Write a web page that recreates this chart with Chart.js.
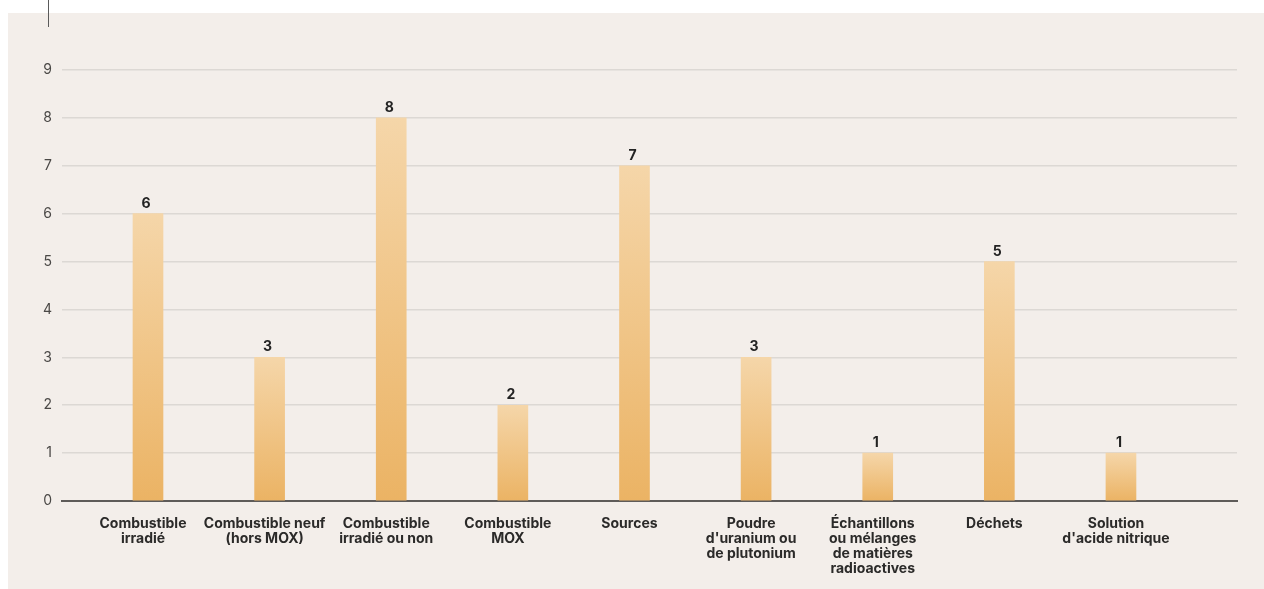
<!DOCTYPE html>
<html lang="fr">
<head>
<meta charset="utf-8">
<title>Colis par type de contenu</title>
<script src="https://cdn.jsdelivr.net/npm/chart.js@4.4.1/dist/chart.umd.min.js"></script>
<style>
    html, body { margin: 0; padding: 0; background: #ffffff; }
    body { width: 1264px; height: 589px; position: relative; overflow: hidden; font-family: Inter, "Noto Sans", sans-serif; }
    #filet { position: absolute; left: 48px; top: 0; width: 1px; height: 27px; background: #5a5a5a; z-index: 2; }
    #panneau { position: absolute; left: 8px; top: 13px; width: 1256px; height: 576px; background: #f3eeea; z-index: 1; }
    #graphique { display: block; }
</style>
</head>
<body>
<div id="filet"></div>
<div id="panneau"><canvas id="graphique" width="1256" height="576"></canvas></div>
<script>
// Catégories de contenu (une ligne par élément du tableau)
const categories = [
    ['Combustible', 'irradié'],
    ['Combustible neuf', '(hors MOX)'],
    ['Combustible', 'irradié ou non'],
    ['Combustible', 'MOX'],
    ['Sources'],
    ['Poudre', "d'uranium ou", 'de plutonium'],
    ['Échantillons', 'ou mélanges', 'de matières', 'radioactives'],
    ['Déchets'],
    ['Solution', "d'acide nitrique"]
];
const valeurs = [6, 3, 8, 2, 7, 3, 1, 5, 1];
const graduations = [0, 1, 2, 3, 4, 5, 6, 7, 8, 9];

// Dégradé vertical propre à chaque barre : clair en haut, plus soutenu en bas
function degradeBarre(context) {
    const chart = context.chart;
    const area = chart.chartArea;
    if (!area || !context.parsed) return '#efc484';
    const y = chart.scales.y;
    const haut = y.getPixelForValue(context.parsed.y);
    const bas = y.getPixelForValue(0);
    const g = chart.ctx.createLinearGradient(0, haut, 0, bas);
    g.addColorStop(0, '#f5d6a9');
    g.addColorStop(1, '#ebb364');
    return g;
}

// Valeur écrite au-dessus de chaque barre
const etiquettesValeurs = {
    id: 'etiquettesValeurs',
    afterDatasetsDraw(chart) {
        const ctx = chart.ctx;
        const meta = chart.getDatasetMeta(0);
        ctx.save();
        ctx.font = 'bold 14px Inter, "Noto Sans", sans-serif';
        ctx.fillStyle = '#232323';
        ctx.textAlign = 'center';
        ctx.textBaseline = 'alphabetic';
        meta.data.forEach((barre, i) => {
            ctx.fillText(String(valeurs[i]), barre.x - 2, barre.y - 6);
        });
        ctx.restore();
    }
};

const ctx = document.getElementById('graphique').getContext('2d');
const graphique = new Chart(ctx, {
    type: 'bar',
    data: {
        datasets: [{
            data: valeurs.map((v, i) => ({ x: i, y: v })),
            backgroundColor: degradeBarre,
            borderWidth: 0,
            barThickness: 30
        }]
    },
    options: {
        responsive: false,
        animation: false,
        layout: { padding: { top: 57, right: 27, left: 0, bottom: 0 } },
        plugins: {
            legend: { display: false },
            tooltip: { enabled: false }
        },
        scales: {
            x: {
                type: 'linear',
                offset: false,
                min: -0.707,
                max: 8.954,
                afterBuildTicks: (scale) => {
                    scale.ticks = categories.map((c, i) => ({ value: i }));
                },
                afterFit: (scale) => { scale.height = 88; },
                grid: { display: false, drawTicks: false },
                border: { display: true, color: '#5e5b59', width: 2 },
                ticks: {
                    autoSkip: false,
                    maxRotation: 0,
                    padding: 15,
                    labelOffset: -5,
                    color: '#2b2a29',
                    font: { family: 'Inter, "Noto Sans", sans-serif', size: 14, weight: 'bold', lineHeight: 1.08 },
                    callback: (value) => categories[value]
                }
            },
            y: {
                min: 0,
                max: 9,
                afterBuildTicks: (scale) => {
                    scale.ticks = graduations.map(v => ({ value: v }));
                },
                afterFit: (scale) => { scale.width = 54; },
                grid: { color: '#dcd8d4', lineWidth: 1.5, drawTicks: false },
                border: { display: false },
                ticks: {
                    padding: 10,
                    color: '#4a4846',
                    font: { family: 'Inter, "Noto Sans", sans-serif', size: 14 }
                }
            }
        }
    },
    plugins: [etiquettesValeurs]
});
</script>
</body>
</html>
